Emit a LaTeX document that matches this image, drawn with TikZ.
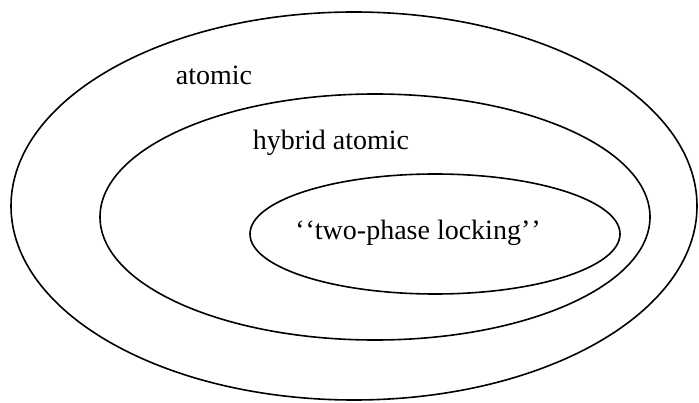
\documentclass[tikz,border=0pt]{standalone}
\usepackage{fontspec}
\setmainfont{Liberation Serif}
\usetikzlibrary{shapes.geometric}

\tikzset{
  set/.style={draw, line width=1.6pt, ellipse, inner sep=0pt},
  setlabel/.style={font=\fontsize{28}{32}\selectfont, inner sep=0pt}
}

\begin{document}
\begin{tikzpicture}[x=1pt,y=1pt]
\useasboundingbox (0,0) rectangle (699,402);
\node[set, minimum width=686, minimum height=388] (atomicset) at (354,196) {};
\node[set, minimum width=550, minimum height=246] (hybridset) at (375,185) {};
\node[set, minimum width=370, minimum height=120] (tplset) at (435,168) {};
\node[setlabel] (atomiclabel) at (214,327) {atomic};
\node[setlabel] (hybridlabel) at (331,259) {hybrid atomic};
\node[setlabel] (tpllabel) at (418,169) {`\kern1pt`two-phase locking'\kern1pt'};
\end{tikzpicture}
\end{document}
